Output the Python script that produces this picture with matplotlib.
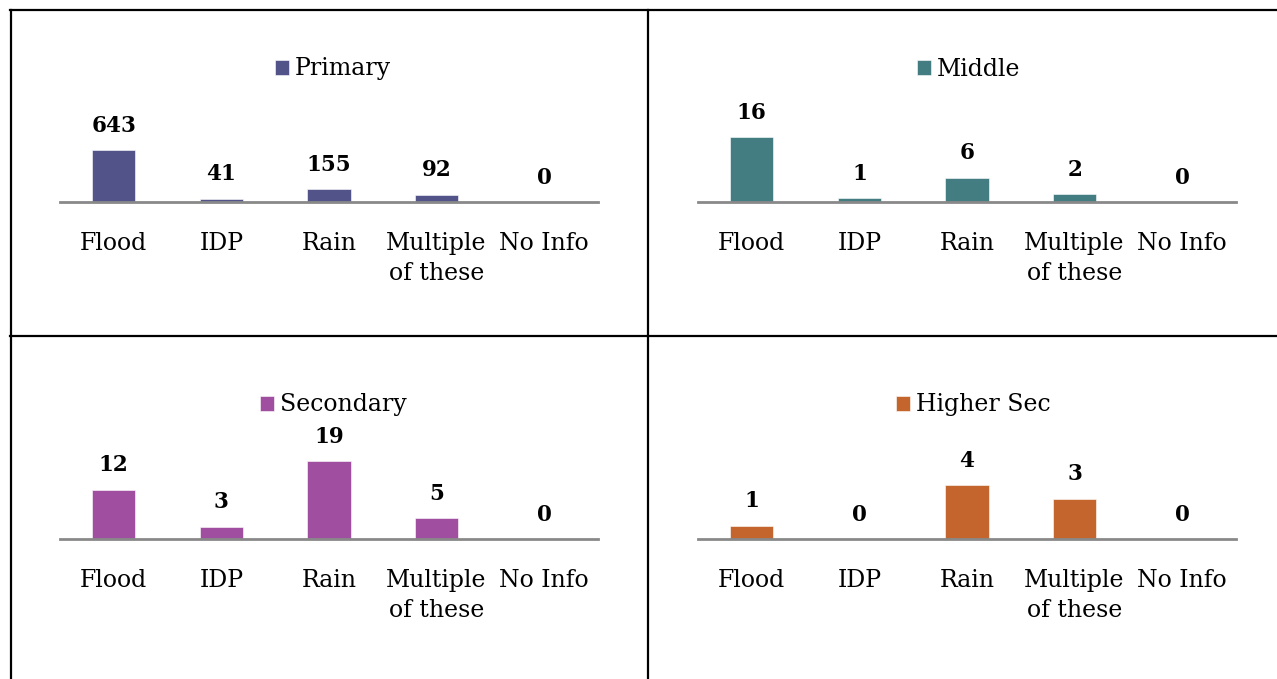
import matplotlib
matplotlib.use("Agg")
import matplotlib.pyplot as plt
from matplotlib.lines import Line2D

plt.rcParams['font.family'] = ['DejaVu Serif']

categories = ['Flood', 'IDP', 'Rain', 'Multiple\nof these', 'No Info']
primary = [643, 41, 155, 92, 0]
middle = [16, 1, 6, 2, 0]
secondary = [12, 3, 19, 5, 0]
higher_sec = [1, 0, 4, 3, 0]

series = [
    ('Primary', primary, '#515389'),
    ('Middle', middle, '#437d81'),
    ('Secondary', secondary, '#a04ea0'),
    ('Higher Sec', higher_sec, '#c4652e'),
]

W, H = 1277, 679
fig = plt.figure(figsize=(W / 100, H / 100), dpi=100)

# panel layout in pixels: (left, baseline, legend x, legend y, bar px for max)
layout = [
    (60, 202, 333, 69, 52),
    (698, 202, 969, 69, 65),
    (60, 539, 333, 405, 78),
    (698, 539, 973, 405, 54),
]
ax_w, ax_h = 538, 100

for (name, vals, color), (left, base, lx, ly, maxpx) in zip(series, layout):
    ax = fig.add_axes([left / W, (H - base) / H, ax_w / W, ax_h / H])
    x = range(len(categories))
    bars = ax.bar(x, vals, width=0.4, color=color, edgecolor='white', linewidth=0.4, label=name, zorder=2)
    ax.set_xlim(-0.5, len(categories) - 0.5)
    ax.set_ylim(0, max(vals) * ax_h / maxpx)
    for b, v in zip(bars, vals):
        ax.annotate(str(v), (b.get_x() + b.get_width() / 2, v), xytext=(0, 17.5),
                    textcoords='offset points', ha='center', va='center',
                    fontsize=15.5, fontweight='bold')
    ax.set_xticks(list(x))
    ax.set_xticklabels(categories, fontsize=17)
    for lbl in ax.get_xticklabels():
        lbl.set_linespacing(1.42)
    ax.tick_params(axis='x', length=0, pad=21.5)
    ax.set_yticks([])
    for s in ['top', 'right', 'left']:
        ax.spines[s].set_visible(False)
    ax.spines['bottom'].set_color('#898989')
    ax.spines['bottom'].set_linewidth(2)
    ax.spines['bottom'].set_zorder(3)
    ax.patch.set_visible(False)
    ax.legend(loc='center', bbox_to_anchor=(lx / W, 1 - ly / H), bbox_transform=fig.transFigure,
              frameon=False, fontsize=17, handlelength=0.6, handleheight=0.6, handletextpad=0.25)

# table grid lines
def hline(y, x0, x1):
    fig.add_artist(Line2D([x0 / W, x1 / W], [1 - y / H, 1 - y / H], color='black', lw=1.6))

def vline(x, y0, y1):
    fig.add_artist(Line2D([x / W, x / W], [1 - y0 / H, 1 - y1 / H], color='black', lw=1.6))

hline(10, 10, 1277)
hline(336, 10, 1277)
vline(10.5, 10, 679)
vline(648, 10, 679)

fig.savefig('out.png', dpi=100)
